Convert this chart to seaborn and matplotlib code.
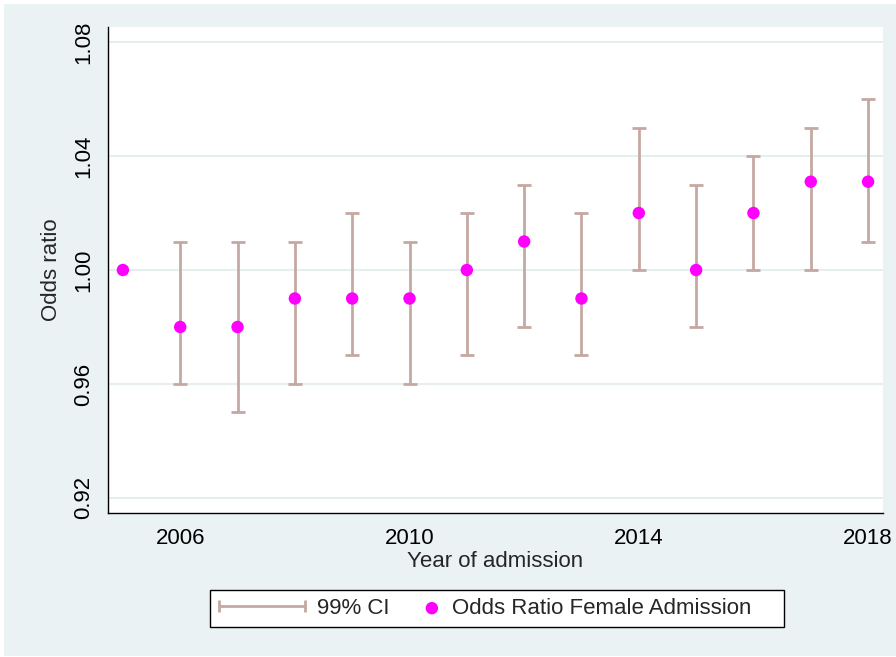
import numpy as np
import pandas as pd
import matplotlib
matplotlib.use("Agg")
import matplotlib.pyplot as plt
import seaborn as sns
from matplotlib.lines import Line2D
from matplotlib.patches import Rectangle
from matplotlib.legend_handler import HandlerLine2D, HandlerPathCollection

# ---- data ----
years = [2005, 2006, 2007, 2008, 2009, 2010, 2011, 2012, 2013, 2014, 2015, 2016, 2017, 2018]
odds_ratio = [1.00, 0.98, 0.98, 0.99, 0.99, 0.99, 1.00, 1.01, 0.99, 1.02, 1.00, 1.02, 1.031, 1.031]
ci_low = [np.nan, 0.96, 0.95, 0.96, 0.97, 0.96, 0.97, 0.98, 0.97, 1.00, 0.98, 1.00, 1.00, 1.01]
ci_high = [np.nan, 1.01, 1.01, 1.01, 1.02, 1.01, 1.02, 1.03, 1.02, 1.05, 1.03, 1.04, 1.05, 1.06]
x_ticks = [2006, 2010, 2014, 2018]
y_ticks = [0.92, 0.96, 1.00, 1.04, 1.08]
y_ticklabels = ["0.92", "0.96", "1.00", "1.04", "1.08"]

df = pd.DataFrame({"year": years, "or": odds_ratio, "lo": ci_low, "hi": ci_high})

BG = "#EAF2F3"
GRID = "#E6EEF0"
CI_COLOR = "#C4A8A2"
DOT = "#FF00FF"

sns.set_style("white")
plt.rcParams["font.family"] = ["Liberation Sans", "DejaVu Sans"]
plt.rcParams["font.size"] = 16

W, H = 896, 657
fig = plt.figure(figsize=(W / 100, H / 100), dpi=100)
fig.patch.set_facecolor("white")
fig.patches.append(Rectangle((4 / W, 1 / H), (W - 4) / W, (H - 5) / H,
                             transform=fig.transFigure, facecolor=BG,
                             edgecolor="none", zorder=-10))

ax = fig.add_axes([108 / W, (H - 513) / H, (883 - 108) / W, (513 - 27) / H])
ax.set_facecolor("white")

# CI error bars
sub = df.dropna()
ax.errorbar(sub["year"], sub["or"],
            yerr=[sub["or"] - sub["lo"], sub["hi"] - sub["or"]],
            fmt="none", ecolor=CI_COLOR, elinewidth=2, capsize=5, capthick=2,
            zorder=2)

# Points
sns.scatterplot(data=df, x="year", y="or", ax=ax, color=DOT, s=80,
                edgecolor="none", linewidth=0, zorder=3, legend=False)

ax.set_xlim(2004.74, 2018.26)
ax.set_ylim(0.9147, 1.0853)
ax.set_xticks(x_ticks)
ax.set_xticklabels([str(t) for t in x_ticks])
ax.set_yticks(y_ticks)
ax.set_yticklabels(y_ticklabels, rotation=90, va="center")

ax.yaxis.grid(True, color=GRID, linewidth=1.5, zorder=0)
ax.xaxis.grid(False)
ax.set_axisbelow(True)

for s in ["top", "right"]:
    ax.spines[s].set_visible(False)
for s in ["left", "bottom"]:
    ax.spines[s].set_color("black")
    ax.spines[s].set_linewidth(1.0)

ax.tick_params(axis="both", which="major", direction="out", length=7, width=1,
               color="black", labelsize=16, labelcolor="black")
ax.tick_params(axis="x", pad=4)
ax.tick_params(axis="y", pad=3)

ax.set_xlabel("Year of admission", fontsize=16, labelpad=1)
ax.set_ylabel("Odds ratio", fontsize=16, labelpad=8)

# Legend
class RightDot(HandlerPathCollection):
    def get_xdata(self, legend, xdescent, ydescent, width, height, fontsize):
        x = -xdescent + width - 0.4 * fontsize
        return [x], [x]

ci_handle = Line2D([], [], color=CI_COLOR, lw=2, marker="|", markersize=9,
                   markeredgewidth=2)
dot_handle = ax.scatter([], [], s=80, color=DOT, edgecolor="none")
leg = fig.legend([ci_handle, dot_handle],
                 ["99% CI", "Odds Ratio Female Admission    "],
                 loc="center", bbox_to_anchor=(497 / W, (H - 608.5) / H),
                 ncol=2, numpoints=2, scatterpoints=1, handlelength=3.96,
                 handletextpad=0.5, columnspacing=-1.67, borderpad=0.36,
                 fancybox=False, frameon=True, edgecolor="black",
                 facecolor="white", framealpha=1, fontsize=16,
                 handler_map={Line2D: HandlerLine2D(marker_pad=0.05),
                              type(dot_handle): RightDot()})
leg.get_frame().set_linewidth(1.0)

fig.savefig("out.png", dpi=100, facecolor=fig.get_facecolor())
